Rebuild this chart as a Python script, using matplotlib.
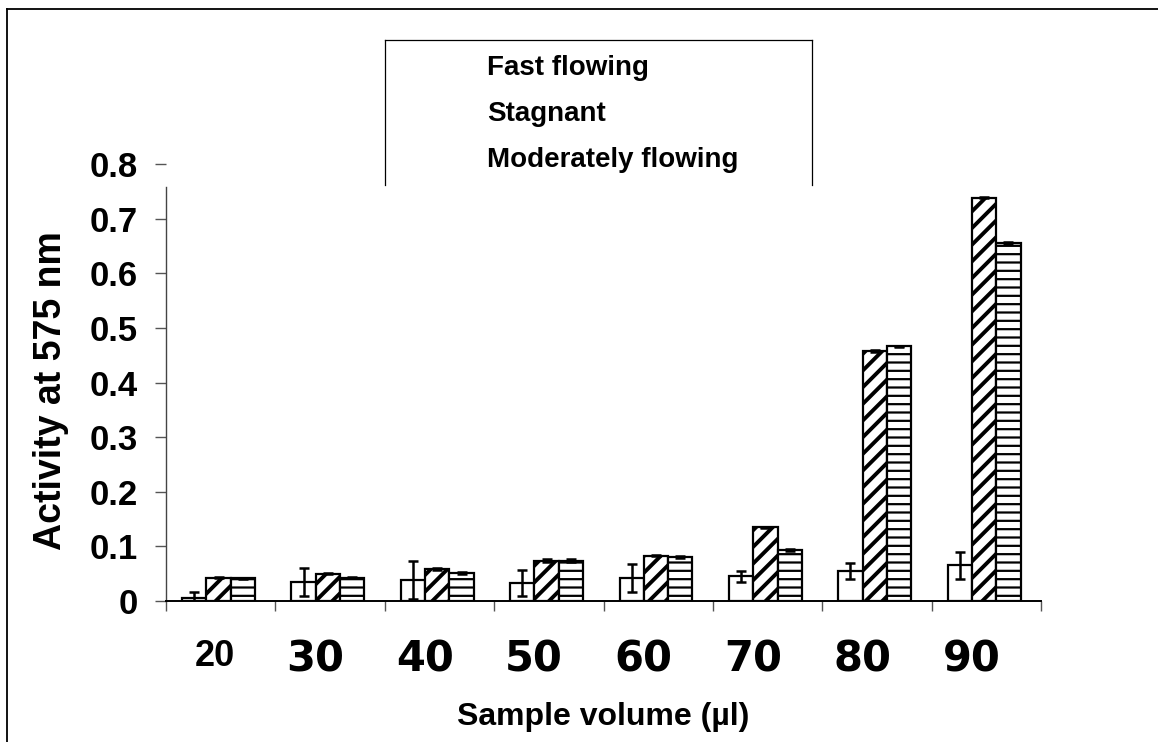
import numpy as np
import matplotlib
matplotlib.use("Agg")
import matplotlib.pyplot as plt
from matplotlib import font_manager
from matplotlib.lines import Line2D

# ---- data -------------------------------------------------------------
volumes = ["20", "30", "40", "50", "60", "70", "80", "90"]
series_names = ["Fast flowing", "Stagnant", "Moderately flowing"]

fast_flowing = [0.005, 0.035, 0.038, 0.033, 0.042, 0.045, 0.055, 0.065]
fast_err = [0.011, 0.025, 0.035, 0.024, 0.025, 0.010, 0.014, 0.025]

stagnant = [0.043, 0.050, 0.059, 0.074, 0.083, 0.135, 0.457, 0.738]
stagnant_err = [0.001, 0.001, 0.002, 0.002, 0.001, 0.001, 0.002, 0.001]

moderate = [0.042, 0.043, 0.052, 0.074, 0.081, 0.093, 0.466, 0.655]
moderate_err = [0.001, 0.001, 0.002, 0.002, 0.002, 0.002, 0.001, 0.002]

y_ticks = [0, 0.1, 0.2, 0.3, 0.4, 0.5, 0.6, 0.7, 0.8]
y_tick_labels = ["0", "0.1", "0.2", "0.3", "0.4", "0.5", "0.6", "0.7", "0.8"]

# ---- figure -----------------------------------------------------------
W, H = 1158, 742
fig = plt.figure(figsize=(W / 100, H / 100), dpi=100)
fig.patch.set_facecolor("white")

ax_left, ax_right = 166, 1041
ax_bottom, ax_top = 601, 164
ax = fig.add_axes([ax_left / W, 1 - ax_bottom / H,
                   (ax_right - ax_left) / W, (ax_bottom - ax_top) / H])

n = len(volumes)
x = np.arange(n)
bw = 0.222
shift = -0.02

err_kw = dict(ecolor="black", elinewidth=1.8, capsize=3.6, capthick=1.8)

with plt.rc_context({"hatch.linewidth": 1.0}):
    ax.bar(x + shift - bw, fast_flowing, bw, color="white", edgecolor="black",
           linewidth=1.6, yerr=fast_err, error_kw=err_kw, zorder=3)
with plt.rc_context({"hatch.linewidth": 2.8}):
    b2 = ax.bar(x + shift, stagnant, bw, color="white", edgecolor="black",
                linewidth=1.6, hatch="//", yerr=stagnant_err, error_kw=err_kw,
                zorder=3)
with plt.rc_context({"hatch.linewidth": 1.6}):
    b3 = ax.bar(x + shift + bw, moderate, bw, color="white", edgecolor="black",
                linewidth=1.6, hatch="--", yerr=moderate_err, error_kw=err_kw,
                zorder=3)
for p in b2:
    if hasattr(p, "set_hatch_linewidth"):
        p.set_hatch_linewidth(2.8)
for p in b3:
    if hasattr(p, "set_hatch_linewidth"):
        p.set_hatch_linewidth(1.6)

ax.set_xlim(-0.5, n - 0.5)
ax.set_ylim(0, 0.8)

for side in ("top", "right"):
    ax.spines[side].set_visible(False)
ax.spines["left"].set_bounds(0, 0.757)
ax.spines["left"].set_color("#444444")
ax.spines["left"].set_linewidth(1.0)
ax.spines["bottom"].set_linewidth(1.4)

# y axis
ax.set_yticks(y_ticks)
ax.set_yticklabels(y_tick_labels, fontsize=25, fontweight="bold",
                   family="Liberation Sans")
ax.tick_params(axis="y", direction="out", length=8, width=1.0,
               color="#555555", pad=12)

# x axis: boundary ticks, labels placed on minor ticks
ax.set_xticks(np.arange(n + 1) - 0.5)
ax.set_xticklabels([])
ax.tick_params(axis="x", which="major", direction="out", length=7,
               width=1.0, color="#555555")
ax.set_xticks(x + 0.13, volumes, minor=True)
ax.tick_params(axis="x", which="minor", length=0, pad=27)

narrow = "Liberation Sans Narrow"
names = {f.name for f in font_manager.fontManager.ttflist}
if narrow not in names:
    narrow = "Liberation Sans"
for i, lab in enumerate(ax.get_xticklabels(minor=True)):
    lab.set_horizontalalignment("right")
    lab.set_fontweight("bold")
    if i == 0:
        lab.set_family(narrow)
        lab.set_fontsize(26)
    else:
        lab.set_family("DejaVu Sans")
        lab.set_fontsize(30)

ax.set_ylabel("Activity at 575 nm", fontsize=27, fontweight="bold",
              family="Liberation Sans")
ax.yaxis.set_label_coords(-0.131, 0.482)
ax.yaxis.label.set_verticalalignment("center")

fig.text((ax_left + ax_right) / 2 / W, 1 - 717 / H, "Sample volume (µl)",
         fontsize=23, fontweight="bold", family="Liberation Sans",
         ha="center", va="center")

# legend panel (text entries inside an open box)
bx0, bx1, by0, by1 = 385 / W, 812 / W, 1 - 40 / H, 1 - 185 / H
for xs, ys in (([bx0, bx0], [by1, by0]), ([bx0, bx1], [by0, by0]),
               ([bx1, bx1], [by0, by1])):
    fig.add_artist(Line2D(xs, ys, color="black", lw=0.9,
                          transform=fig.transFigure))
for name, yc in zip(series_names, (68, 114, 160)):
    fig.text(487 / W, 1 - yc / H, name, fontsize=20, fontweight="bold",
             family="Liberation Sans", ha="left", va="center")

# outer chart frame
fx, fy = 7 / W, 1 - 9 / H
fig.add_artist(Line2D([fx, fx], [0, fy], color="black", lw=1.3,
                      transform=fig.transFigure))
fig.add_artist(Line2D([fx, 1], [fy, fy], color="black", lw=1.3,
                      transform=fig.transFigure))

fig.savefig("out.png", dpi=100, facecolor="white")
